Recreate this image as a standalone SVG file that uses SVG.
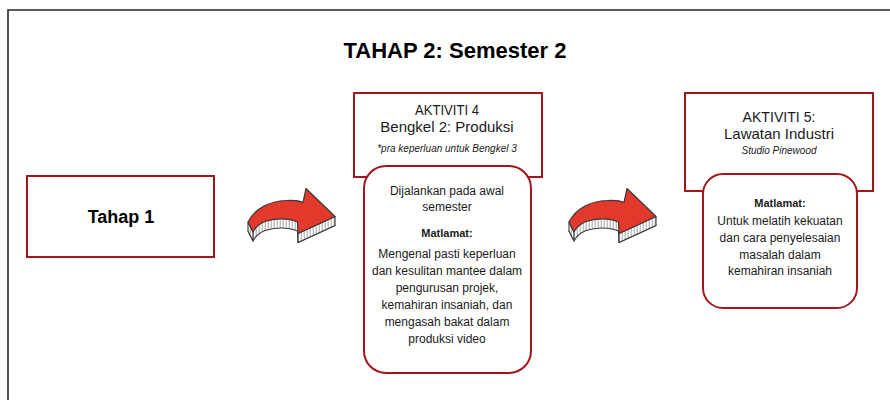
<svg xmlns="http://www.w3.org/2000/svg" width="890" height="400" viewBox="0 0 890 400">
<style>
.frame{fill:none;stroke:#262626;stroke-width:1.6}
.box{fill:#fff;stroke:#a3161a;stroke-width:2}
.rbox{fill:#fff;stroke:#a3161a;stroke-width:2}
text{font-family:"Liberation Sans",Arial,sans-serif;fill:#1a1a1a;text-anchor:middle}
.title{font-size:22px;font-weight:bold;fill:#000}
.big{font-size:18px;font-weight:bold;fill:#000}
.head{font-size:15px}
.note{font-size:10px;font-style:italic}
.body{font-size:12px}
.bold{font-size:11px;font-weight:bold}
.top{fill:#e3392c;stroke:#3a3a3a;stroke-width:1.2;stroke-linejoin:round}
.side{fill:url(#hatch);stroke:#3a3a3a;stroke-width:1.1;stroke-linejoin:round}
</style>
<defs>
<pattern id="hatch" width="3" height="12" patternUnits="userSpaceOnUse">
<rect width="3" height="12" fill="#fff"/>
<line x1="1.2" y1="0" x2="1.2" y2="12" stroke="#8a8a8a" stroke-width="0.8"/>
</pattern>
<g id="arrow">
<path class="side" transform="translate(0,9)" d="M248,222 C255,208 270,201 286,200.5 C294,200 300,201 303,202.5 L306,188.5 L335,216.5 L298,233.5 L297.5,222 C288,218 275,218 265,221.5 C259,224 255,228 253,232 Z"/>
<path class="side" d="M248,222 L253,232 L253,241 L248,231 Z"/>
<path class="side" d="M335,216.5 L298,233.5 L298,242.5 L335,225.5 Z"/>
<path class="top" d="M248,222 C255,208 270,201 286,200.5 C294,200 300,201 303,202.5 L306,188.5 L335,216.5 L298,233.5 L297.5,222 C288,218 275,218 265,221.5 C259,224 255,228 253,232 Z"/>
</g>
</defs>
<path class="frame" d="M8,400 V10 H890"/>
<text class="title" x="455" y="58">TAHAP 2: Semester 2</text>
<g id="connectors">
<use href="#arrow"/>
<use href="#arrow" transform="translate(321,0)"/>
</g>
<g id="tahap1">
<rect class="box" x="27" y="176" width="187" height="81"/>
<text class="big" x="121" y="223">Tahap 1</text>
</g>
<g id="aktiviti4">
<rect class="box" x="354" y="93" width="188" height="84"/>
<text class="head" x="447" y="115" textLength="64" lengthAdjust="spacingAndGlyphs">AKTIVITI 4</text>
<text class="head" x="447" y="132">Bengkel 2: Produksi</text>
<text class="note" x="447" y="152">*pra keperluan untuk Bengkel  3</text>
</g>
<g id="aktiviti4-detail">
<rect class="rbox" x="364" y="166" width="167" height="207" rx="22"/>
<text class="body" x="447" y="195">Dijalankan pada awal</text>
<text class="body" x="447" y="210.5">semester</text>
<text class="bold" x="447" y="237">Matlamat:</text>
<text class="body" x="447" y="258">Mengenal pasti keperluan</text>
<text class="body" x="447" y="275">dan kesulitan mantee dalam</text>
<text class="body" x="447" y="292">pengurusan projek,</text>
<text class="body" x="447" y="308.5">kemahiran insaniah, dan</text>
<text class="body" x="447" y="325.5">mengasah bakat dalam</text>
<text class="body" x="447" y="343">produksi video</text>
</g>
<g id="aktiviti5">
<rect class="box" x="685" y="93" width="188" height="98"/>
<text class="head" x="779" y="121.5" textLength="73" lengthAdjust="spacingAndGlyphs">AKTIVITI 5:</text>
<text class="head" x="779" y="138.5">Lawatan Industri</text>
<text class="note" x="779" y="153.5">Studio Pinewood</text>
</g>
<g id="aktiviti5-detail">
<rect class="rbox" x="703" y="174" width="154" height="134" rx="20"/>
<text class="bold" x="780" y="206.5">Matlamat:</text>
<text class="body" x="780" y="225">Untuk melatih kekuatan</text>
<text class="body" x="780" y="241.5">dan cara penyelesaian</text>
<text class="body" x="780" y="258.5">masalah dalam</text>
<text class="body" x="780" y="275">kemahiran insaniah</text>
</g>
</svg>
